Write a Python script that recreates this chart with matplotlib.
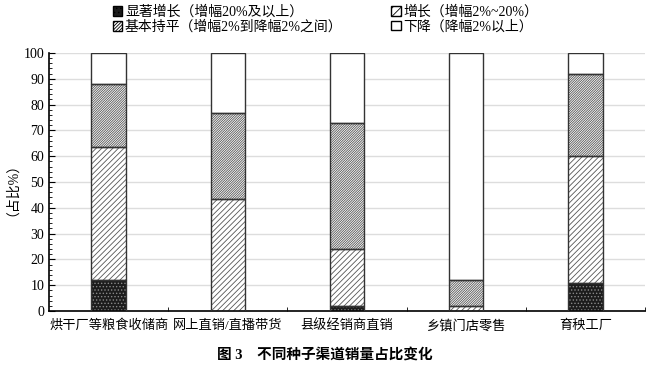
import matplotlib.pyplot as plt
import matplotlib.patches as mpatches
import numpy as np

plt.rcParams['font.family'] = ['Liberation Serif', 'Noto Sans CJK SC']
plt.rcParams['hatch.linewidth'] = 0.6

# 数据
categories = ['烘干厂等粮食收储商', '网上直销/直播带货', '县级经销商直销', '乡镇门店零售', '育秧工厂']
sig_up = [12, 0, 2, 0, 11]
grow = [51.5, 43.3, 22, 2, 49]
flat = [24.5, 33.4, 49, 10, 32]
down = [12, 23.3, 27, 88, 8]
labels = ['显著增长（增幅20%及以上）', '增长（增幅2%~20%）',
          '基本持平（增幅2%到降幅2%之间）', '下降（降幅2%以上）']

fig = plt.figure(figsize=(6.5, 3.68), dpi=100)
ax = fig.add_axes([49 / 650, 57 / 368, 596 / 650, 258 / 368])

x = np.arange(len(categories))
w = 0.29
series = [sig_up, grow, flat, down]
styles = [('#1c1c1c', '#888888', '.....'),
          ('white', '#555555', '//////'),
          ('white', '#555555', '//////////////'),
          ('white', 'white', '')]
bottom = np.zeros(len(categories))
for vals, (fc, hc, h) in zip(series, styles):
    vals = np.array(vals)
    ax.bar(x, vals, w, bottom=bottom, color=fc, edgecolor=hc, hatch=h, linewidth=0, zorder=2)
    ax.bar(x, vals, w, bottom=bottom, fill=False, edgecolor='#333333', linewidth=1, zorder=3)
    bottom += vals

ax.set_xlim(-0.5, len(categories) - 0.5)
ax.set_ylim(0, 100)
ax.set_yticks(np.arange(0, 101, 10))
ax.set_yticks(np.arange(0, 101, 2), minor=True)
ax.yaxis.grid(True, color='#dddddd', linewidth=1, zorder=0)
ax.set_axisbelow(True)
ax.set_xticks(x)
ax.set_xticklabels(categories, fontsize=9.5)
ax.set_xticks(np.arange(0.5, len(categories), 1), minor=True)
ax.tick_params(axis='x', which='major', length=0, pad=6)
ax.tick_params(axis='x', which='minor', direction='in', length=3)
ax.tick_params(axis='y', which='major', direction='in', length=4, labelsize=10)
ax.tick_params(axis='y', which='minor', direction='in', length=2)
ax.spines['top'].set_visible(False)
ax.spines['right'].set_visible(False)
ax.spines['left'].set_linewidth(1.2)
ax.spines['bottom'].set_linewidth(1.2)
ax.set_ylabel('（占比%）', fontsize=10, labelpad=8)

handles = [mpatches.Patch(facecolor='#1c1c1c', edgecolor='black', hatch='....'),
           mpatches.Patch(facecolor='white', edgecolor='black', hatch='//////////'),
           mpatches.Patch(facecolor='white', edgecolor='black', hatch='////'),
           mpatches.Patch(facecolor='white', edgecolor='black')]
leg_labels = [labels[0], labels[2], labels[1], labels[3]]
fig.legend(handles, leg_labels,
           ncol=2, loc='upper left', bbox_to_anchor=(100 / 650, 1.02), frameon=False,
           fontsize=10, handlelength=0.7, handleheight=0.7, handletextpad=0.2,
           columnspacing=3.5, labelspacing=0.1)

fig.text(0.5, 0.025, '图 3　不同种子渠道销量占比变化', ha='center', fontsize=10.5, fontweight='bold')

plt.savefig('out.png', dpi=100)
